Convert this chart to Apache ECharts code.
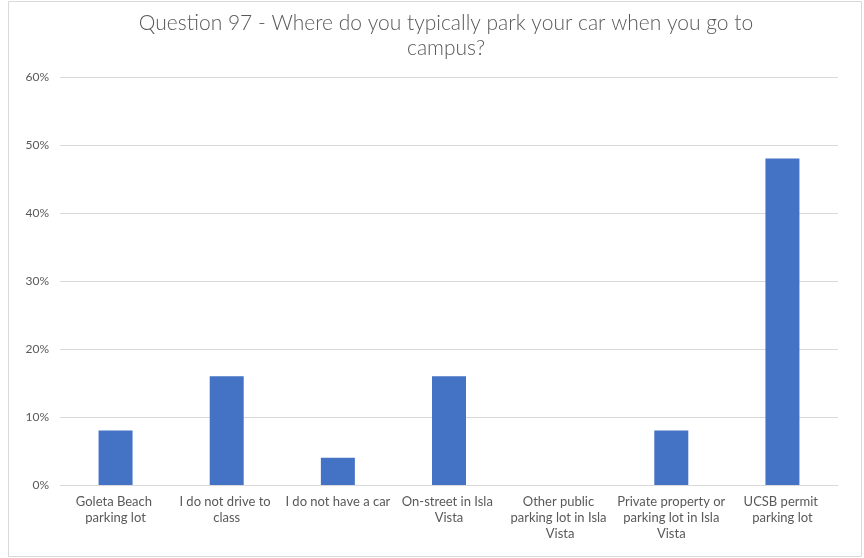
<!DOCTYPE html>
<html>
<head>
<meta charset="utf-8">
<script src="https://cdn.jsdelivr.net/npm/echarts@6/dist/echarts.min.js"></script>
<style>html,body{margin:0;padding:0;background:#fff}#c{width:864px;height:558px}</style>
</head>
<body>
<div id="c"></div>
<script>
const titleText = "Question 97 - Where do you typically park your car when you go to\ncampus?";
const categories = ["Goleta Beach parking lot", "I do not drive to class", "I do not have a car", "On-street in Isla Vista", "Other public parking lot in Isla Vista", "Private property or parking lot in Isla Vista", "UCSB permit parking lot"];
const values = [8, 16, 4, 16, 0, 8, 48];
const yTicks = [0, 10, 20, 30, 40, 50, 60];

const chart = echarts.init(document.getElementById('c'), null, {renderer: 'canvas'});
chart.setOption({
  animation: false,
  backgroundColor: '#ffffff',
  title: {
    text: titleText,
    left: 441, top: 6, textAlign: 'center',
    textStyle: {fontFamily: 'Lato', fontWeight: 300, fontSize: 21, color: '#595959', lineHeight: 25}
  },
  graphic: [{
    type: 'rect', shape: {x: 8.5, y: 1.5, width: 853, height: 555}, silent: true,
    style: {fill: 'none', stroke: '#d9d9d9', lineWidth: 1}
  }],
  grid: {left: 60, right: 26, top: 77, bottom: 73, containLabel: false},
  xAxis: {
    type: 'category', data: categories,
    axisLine: {lineStyle: {color: '#d9d9d9'}},
    axisTick: {show: false},
    axisLabel: {interval: 0, color: '#595959', fontFamily: 'Lato', fontSize: 13, width: 110, overflow: 'break', lineHeight: 16, margin: 9}
  },
  yAxis: {
    type: 'value', min: 0, max: 60, interval: 10,
    axisLine: {show: false}, axisTick: {show: false},
    splitLine: {lineStyle: {color: '#d9d9d9'}},
    axisLabel: {color: '#595959', fontFamily: 'Lato', fontSize: 12, margin: 11,
      formatter: v => yTicks.includes(v) ? v + '%' : ''}
  },
  series: [{
    type: 'bar', data: values, barWidth: 34,
    itemStyle: {color: '#4472c4'}
  }]
});
</script>
</body>
</html>
